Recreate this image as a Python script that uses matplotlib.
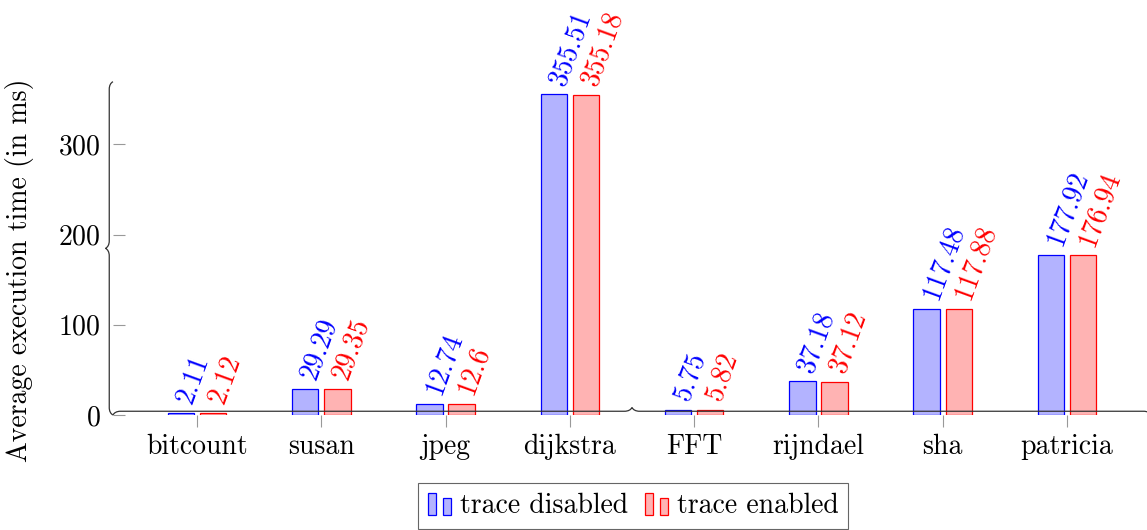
import numpy as np
import matplotlib
matplotlib.use('Agg')
import matplotlib.pyplot as plt
import matplotlib.patches as patches
from matplotlib.path import Path
from matplotlib.transforms import IdentityTransform
from matplotlib.legend_handler import HandlerBase

plt.rcParams['font.family'] = 'cmr10'
plt.rcParams['axes.formatter.use_mathtext'] = True
plt.rcParams['font.size'] = 20

categories = ['bitcount', 'susan', 'jpeg', 'dijkstra', 'FFT', 'rijndael', 'sha', 'patricia']
trace_disabled = [2.11, 29.29, 12.74, 355.51, 5.75, 37.18, 117.48, 177.92]
trace_enabled = [2.12, 29.35, 12.6, 355.18, 5.82, 37.12, 117.88, 176.94]
series_names = ['trace disabled', 'trace enabled']
yticks = [0, 100, 200, 300]

W, H = 1147, 530
fig = plt.figure(figsize=(W / 100, H / 100), dpi=100)
# axes box in pixels (image coords, y down)
ax_l, ax_r, ax_b, ax_t = 113, 1151, 415, 81.7
ax = fig.add_axes([ax_l / W, (H - ax_b) / H, (ax_r - ax_l) / W, (ax_b - ax_t) / H])

x = np.arange(len(categories))
bw = 0.213
shift = 0.129
blue_face = (0.7, 0.7, 1.0)
red_face = (1.0, 0.7, 0.7)

ax.bar(x - shift, trace_disabled, bw, facecolor=blue_face, edgecolor='blue', linewidth=0.9)
ax.bar(x + shift, trace_enabled, bw, facecolor=red_face, edgecolor='red', linewidth=0.9)

for xi, v in zip(x - shift, trace_disabled):
    ax.annotate('{:g}'.format(v), (xi, v), xytext=(2.5, 7.5), textcoords='offset points',
                rotation=70, rotation_mode='anchor', ha='left', va='center',
                color='blue', annotation_clip=False)
for xi, v in zip(x + shift, trace_enabled):
    ax.annotate('{:g}'.format(v), (xi, v), xytext=(2.5, 7.5), textcoords='offset points',
                rotation=70, rotation_mode='anchor', ha='left', va='center',
                color='red', annotation_clip=False)

ax.set_xlim(-0.676, 7.676)
ax.set_ylim(0, 369.5)
ax.set_xticks(x)
ax.set_xticklabels(categories)
ax.set_yticks(yticks)
ax.tick_params(axis='x', direction='out', length=8.5, width=0.8, color='0.6', pad=5)
ax.tick_params(axis='y', direction='in', length=8.5, width=0.8, color='0.6', pad=9)
for s in ax.spines.values():
    s.set_visible(False)
ax.patch.set_alpha(0)

fig.text(20 / W, 1 - 270 / H, 'Average execution time (in ms)', rotation=90,
         ha='center', va='center')


# axis lines drawn as curly braces (tip on the left of the direction of travel)
def brace(p0, p1, a):
    p0 = np.asarray(p0, float)
    p1 = np.asarray(p1, float)
    L = np.hypot(*(p1 - p0))
    u = (p1 - p0) / L
    n = np.array([-u[1], u[0]])
    m = L / 2
    st = [(0, 0),
          (0.15 * a, 0.3 * a), (0.5 * a, 0.5 * a), (a, 0.5 * a),
          (m - a, 0.5 * a),
          (m - 0.5 * a, 0.5 * a), (m - 0.15 * a, 0.7 * a), (m, a),
          (m + 0.15 * a, 0.7 * a), (m + 0.5 * a, 0.5 * a), (m + a, 0.5 * a),
          (L - a, 0.5 * a),
          (L - 0.5 * a, 0.5 * a), (L - 0.15 * a, 0.3 * a), (L, 0)]
    codes = [Path.MOVETO] + [Path.CURVE4] * 3 + [Path.LINETO] + [Path.CURVE4] * 6 + \
            [Path.LINETO] + [Path.CURVE4] * 3
    verts = [p0 + s * u + t * n for s, t in st]
    return Path(verts, codes)


fig.canvas.draw()
origin = ax.transData.transform((ax.get_xlim()[0], 0))
ytop = ax.transData.transform((ax.get_xlim()[0], ax.get_ylim()[1]))
xend = ax.transData.transform((ax.get_xlim()[1], 0))
for p_end in [ytop, xend]:
    fig.add_artist(patches.PathPatch(brace(origin, p_end, 7.5), facecolor='none',
                                     edgecolor='0.2', linewidth=0.9,
                                     transform=IdentityTransform(), clip_on=False))


class TwoBarHandler(HandlerBase):
    def create_artists(self, legend, orig_handle, xdescent, ydescent, width, height, fontsize, trans):
        fc = orig_handle.get_facecolor()
        ec = orig_handle.get_edgecolor()
        bwid = width * 0.35
        r1 = patches.Rectangle((-xdescent, -ydescent), bwid, height, facecolor=fc,
                               edgecolor=ec, linewidth=0.9, transform=trans)
        r2 = patches.Rectangle((-xdescent + width - bwid, -ydescent), bwid, height * 0.75,
                               facecolor=fc, edgecolor=ec, linewidth=0.9, transform=trans)
        return [r1, r2]


h1 = patches.Rectangle((0, 0), 1, 1, facecolor=blue_face, edgecolor='blue')
h2 = patches.Rectangle((0, 0), 1, 1, facecolor=red_face, edgecolor='red')
leg = fig.legend([h1, h2], series_names, loc='center', ncol=2,
                 bbox_to_anchor=(633 / W, 1 - 506 / H),
                 handler_map={patches.Rectangle: TwoBarHandler()},
                 handlelength=0.86, handleheight=0.86, handletextpad=0.3,
                 columnspacing=0.6, borderpad=0.35, borderaxespad=0,
                 fancybox=False, frameon=True, edgecolor='0.25')
leg.get_frame().set_linewidth(0.8)

fig.savefig('out.png', dpi=100)
